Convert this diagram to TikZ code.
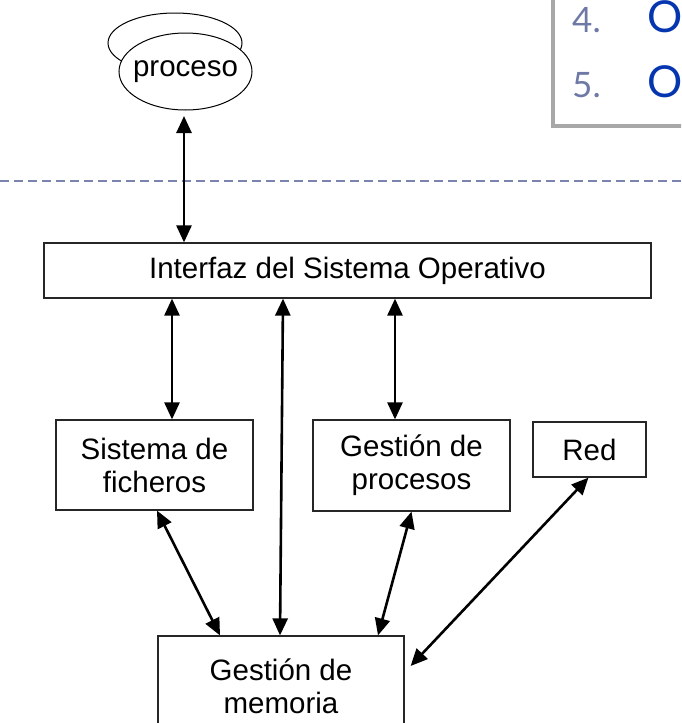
\documentclass[tikz,border=0pt]{standalone}
\usepackage{fontspec}
\setmainfont{Liberation Sans}
\newfontfamily\listfont{Lato}
\usetikzlibrary{arrows.meta}
\definecolor{dashc}{HTML}{7A84AE}
\definecolor{numc}{HTML}{6E79A6}
\definecolor{oblue}{HTML}{0536B0}
\definecolor{framec}{HTML}{A8A8A8}
\tikzset{
  box/.style={draw=black!85, line width=1.2pt, fill=white, align=center, inner sep=0pt,
    font=\fontsize{29.5}{33}\selectfont},
  arr/.style={line width=2.6pt, {Triangle[length=17pt 0,width=15pt 0]}-{Triangle[length=17pt 0,width=15pt 0]}},
}
\begin{document}
\begin{tikzpicture}[x=1pt,y=-1pt]
\useasboundingbox (0,0) rectangle (681,723);
\clip (0,0) rectangle (681,723);
% top-right slide fragment
\draw[framec, line width=3.5pt] (553,-5) -- (553,126) -- (690,126);
\node[anchor=base west, text=numc, font=\listfont\fontsize{35}{40}\selectfont, inner sep=0pt] (n4) at (572,32) {4.};
\node[anchor=base west, text=oblue, font=\listfont\fontsize{44}{50}\selectfont, inner sep=0pt] (o4) at (647,32) {O};
\node[anchor=base west, text=numc, font=\listfont\fontsize{35}{40}\selectfont, inner sep=0pt] (n5) at (572,97) {5.};
\node[anchor=base west, text=oblue, font=\listfont\fontsize{44}{50}\selectfont, inner sep=0pt] (o5) at (647,97) {O};
% dashed separator
\coordinate (dl) at (0,181);
\coordinate (dr) at (681,181);
\draw[dashc, line width=1.5pt, dash pattern=on 9pt off 5pt] (dl) -- (dr);
% process ellipses
\draw[line width=1pt] (175,43) ellipse [x radius=67, y radius=30];
\draw[line width=1pt, fill=white] (185.5,71.5) ellipse [x radius=66.5, y radius=38.5];
\node[inner sep=0pt, font=\fontsize{29.5}{33}\selectfont] (proc0) at (185.5,72) {proceso};
\coordinate (pbot) at (184,112);
% boxes
\node[box, minimum width=607pt, minimum height=55pt] (interfaz) at (347.5,270.5) {Interfaz del Sistema Operativo};
\node[box, minimum width=197pt, minimum height=90pt] (fich) at (154.5,465) {Sistema de\\ficheros};
\node[box, minimum width=197pt, minimum height=91pt] (proc) at (411.5,465.5) {Gestión de\\procesos};
\node[box, minimum width=113pt, minimum height=55pt] (red) at (589.5,449.5) {Red};
\node[box, minimum width=246pt, minimum height=100pt] (mem) at (281,686) {Gestión de\\memoria};
% connectors
\draw[arr] ([yshift=-4pt]pbot) -- (pbot |- interfaz.north);
\draw[arr] ([xshift=-175.5pt]interfaz.south) -- ([xshift=17.5pt]fich.north);
\draw[arr] ([xshift=-64.5pt]interfaz.south) -- ([xshift=-1pt]mem.north);
\draw[arr] ([xshift=47.5pt]interfaz.south) -- ([xshift=-16.5pt]proc.north);
\draw[arr] ([xshift=2.5pt]fich.south) -- ([xshift=-61pt]mem.north);
\draw[arr] (proc.south) -- ([xshift=97pt]mem.north);
\draw[arr] ([xshift=-1pt]red.south) -- ([xshift=6pt,yshift=20pt]mem.east);
\end{tikzpicture}
\end{document}
